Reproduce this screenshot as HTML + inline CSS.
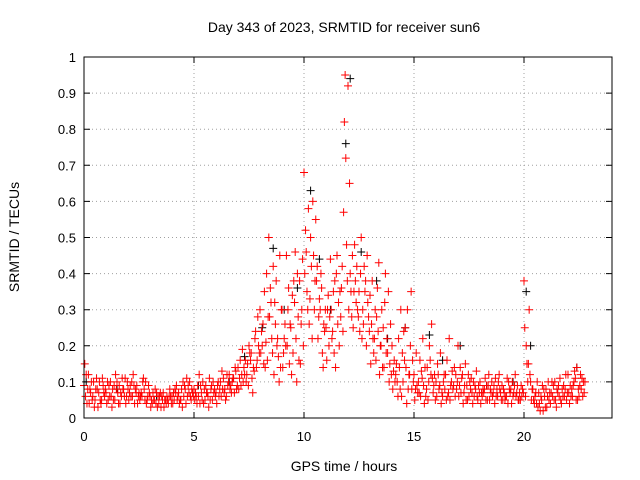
<!DOCTYPE html>
<html><head><meta charset="utf-8"><style>
body{margin:0;background:#fff}
svg{display:block;font-family:"Liberation Sans",sans-serif}
</style></head><body>
<svg id="chart" width="640" height="480" viewBox="0 0 640 480">
<text x="344" y="32" font-size="14" text-anchor="middle">Day 343 of 2023, SRMTID for receiver sun6</text>
<text transform="translate(19,237) rotate(-90)" font-size="14" text-anchor="middle">SRMTID / TECUs</text>
<text x="344" y="471" font-size="14" text-anchor="middle">GPS time / hours</text>
<g id="grid"></g><g id="ticks"></g><g id="marks"></g>
<rect x="84" y="57" width="528" height="361" fill="none" stroke="#000" stroke-width="1"/>
</svg>
<script>
const xTicks=[0,5,10,15,20];
const yTicks=[0,0.1,0.2,0.3,0.4,0.5,0.6,0.7,0.8,0.9,1];
const yTickLabels=["0","0.1","0.2","0.3","0.4","0.5","0.6","0.7","0.8","0.9","1"];
const times=[0,0.2,0.4,0.6,0.8,1,1.2,1.4,1.6,1.8,2,2.2,2.4,2.6,2.8,3,3.2,3.4,3.6,3.8,4,4.2,4.4,4.6,4.8,5,5.2,5.4,5.6,5.8,6,6.2,6.4,6.6,6.8,7,7.2,7.4,7.6,7.8,8,8.2,8.4,8.6,8.8,9,9.2,9.4,9.6,9.8,10,10.2,10.4,10.6,10.8,11,11.2,11.4,11.6,11.8,12,12.2,12.4,12.6,12.8,13,13.2,13.4,13.6,13.8,14,14.2,14.4,14.6,14.8,15,15.2,15.4,15.6,15.8,16,16.2,16.4,16.6,16.8,17,17.2,17.4,17.6,17.8,18,18.2,18.4,18.6,18.8,19,19.2,19.4,19.6,19.8,20,20.2,20.4,20.6,20.8,21,21.2,21.4,21.6,21.8,22,22.2,22.4,22.6];
const redA=[.09,.12,.06,.08,.05,.07,.10,.05,.09,.08,.08,.06,.09,.07,.10,.06,.05,.04,.07,.05,.06,.09,.05,.08,.10,.08,.06,.10,.07,.09,.07,.10,.08,.12,.11,.14,.19,.12,.18,.24,.30,.35,.50,.42,.22,.30,.45,.25,.46,.38,.68,.58,.60,.42,.36,.25,.44,.38,.20,.57,.92,.45,.42,.50,.38,.34,.22,.43,.25,.18,.20,.15,.30,.25,.12,.12,.10,.22,.14,.26,.10,.18,.08,.22,.09,.20,.12,.09,.11,.08,.10,.08,.12,.07,.06,.09,.06,.08,.12,.07,.38,.15,.08,.10,.05,.08,.04,.10,.06,.09,.12,.06,.14,.08];
const redB=[.15,.04,.10,.03,.11,.04,.06,.12,.04,.06,.05,.12,.04,.06,.04,.03,.08,.06,.03,.04,.04,.05,.08,.04,.06,.05,.12,.04,.06,.05,.04,.06,.05,.08,.07,.08,.10,.15,.11,.14,.18,.14,.28,.12,.17,.14,.20,.12,.22,.15,.40,.26,.45,.22,.18,.16,.30,.14,.35,.82,.30,.25,.30,.22,.20,.15,.30,.12,.14,.35,.08,.10,.06,.14,.20,.05,.07,.09,.05,.11,.06,.04,.12,.05,.14,.06,.04,.05,.07,.13,.04,.11,.05,.09,.10,.05,.11,.04,.06,.05,.25,.30,.05,.03,.09,.03,.07,.05,.11,.06,.07,.09,.05,.11];
const redC=[.06,.08,.03,.07,.09,.10,.03,.08,.07,.11,.07,.09,.06,.10,.05,.05,.04,.07,.05,.06,.07,.06,.03,.11,.05,.07,.04,.08,.03,.10,.09,.13,.06,.09,.14,.11,.14,.09,.07,.16,.24,.21,.36,.32,.10,.18,.30,.34,.10,.26,.52,.33,.30,.28,.14,.30,.22,.40,.28,.95,.65,.35,.28,.30,.45,.26,.16,.20,.32,.10,.13,.06,.18,.04,.35,.08,.16,.04,.10,.07,.15,.07,.05,.09,.06,.09,.07,.12,.04,.06,.07,.05,.08,.04,.12,.08,.04,.10,.07,.09,.06,.12,.04,.07,.02,.06,.10,.03,.05,.08,.04,.10,.08,.06];
const redD=[.12,.07,.05,.10,.07,.05,.08,.10,.06,.04,.09,.04,.07,.11,.06,.04,.07,.03,.05,.08,.05,.07,.10,.06,.08,.06,.09,.05,.11,.07,.10,.08,.12,.07,.13,.16,.12,.20,.14,.28,.20,.40,.32,.26,.45,.22,.36,.18,.40,.30,.46,.50,.38,.33,.26,.34,.24,.45,.36,.72,.40,.48,.35,.26,.32,.38,.28,.20,.40,.15,.16,.22,.10,.30,.08,.18,.06,.14,.20,.09,.12,.06,.16,.10,.12,.14,.09,.06,.10,.05,.06,.09,.07,.11,.08,.07,.10,.06,.09,.06,.20,.10,.06,.04,.08,.10,.06,.08,.04,.12,.09,.13,.06,.10];
const redE=[.04,.10,.08,.05,.06,.09,.05,.07,.11,.06,.06,.08,.05,.08,.09,.07,.03,.06,.04,.06,.08,.04,.06,.09,.07,.04,.07,.09,.05,.08,.06,.11,.09,.10,.08,.09,.16,.18,.13,.20,.26,.16,.22,.38,.14,.26,.15,.38,.28,.44,.35,.42,.55,.30,.24,.20,.35,.26,.42,.48,.35,.38,.24,.42,.28,.22,.36,.30,.18,.26,.10,.14,.24,.08,.16,.09,.13,.06,.16,.12,.08,.10,.06,.13,.08,.07,.15,.10,.06,.09,.08,.05,.10,.06,.07,.05,.08,.07,.05,.08,.15,.05,.07,.02,.06,.05,.09,.07,.08,.05,.06,.11,.09,.07];
const redF=[.08,.05,.11,.04,.08,.06,.09,.04,.08,.10,.10,.07,.06,.05,.07,.05,.06,.05,.06,.04,.07,.05,.09,.07,.06,.09,.05,.07,.08,.06,.08,.07,.10,.11,.09,.12,.10,.16,.22,.18,.15,.28,.18,.20,.30,.20,.26,.32,.16,.20,.30,.22,.38,.40,.30,.28,.18,.32,.24,.38,.28,.32,.40,.35,.24,.18,.24,.14,.22,.12,.12,.08,.16,.12,.10,.07,.11,.08,.12,.05,.09,.12,.07,.08,.10,.11,.05,.08,.09,.07,.07,.09,.06,.08,.05,.06,.07,.09,.05,.07,.10,.08,.04,.06,.03,.07,.05,.09,.06,.07,.08,.05,.12,.10];
const blackTimes=[0.1,1.5,3.3,5.2,6.6,7.3,8.1,8.6,9.1,9.7,10.0,10.3,10.7,11.2,11.9,12.1,12.6,13.3,13.8,14.6,15.7,16.3,17.1,18.3,19.5,20.1,20.3,21.5,22.4];
const blackVals=[.10,.08,.06,.09,.10,.17,.25,.47,.30,.36,.68,.63,.44,.30,.76,.94,.46,.38,.22,.25,.23,.16,.20,.09,.10,.35,.20,.08,.14];
const X0=84,X1=612,Y0=418,Y1=57,XMAX=24;
const xs=v=>X0+(X1-X0)*v/XMAX, ys=v=>Y0-(Y0-Y1)*v;
const NS="http://www.w3.org/2000/svg";
function mk(tag,attrs,parent){const e=document.createElementNS(NS,tag);for(const k in attrs)e.setAttribute(k,attrs[k]);parent.appendChild(e);return e;}
const grid=document.getElementById('grid'),ticks=document.getElementById('ticks'),marks=document.getElementById('marks');
yTicks.forEach((v,i)=>{const y=ys(v);
 if(i>0&&i<yTicks.length-1){const g=mk('line',{x1:X0,x2:X1,y1:y,y2:y,stroke:'#a0a0a0','stroke-dasharray':'1,3'},grid);
 
 }
 const t=mk('path',{d:`M${X0} ${y}h6M${X1} ${y}h-6`,stroke:'#000'},ticks);
 
 
 const l=mk('text',{x:X0-8,y:y+5,'font-size':13,'text-anchor':'end'},ticks);l.textContent=yTickLabels[i];
 
 
});
xTicks.forEach(v=>{const x=xs(v);
 if(v>0){const g=mk('line',{x1:x,x2:x,y1:Y0,y2:Y1,stroke:'#a0a0a0','stroke-dasharray':'1,3'},grid);
 
 }
 const t=mk('path',{d:`M${x} ${Y0}v-6M${x} ${Y1}v6`,stroke:'#000'},ticks);
 
 
 const l=mk('text',{x:x,y:Y0+23,'font-size':13,'text-anchor':'middle'},ticks);l.textContent=String(v);
 
 
});
function plus(t,v,color,name){const x=xs(t),y=ys(v);
 const p=mk('path',{d:`M${x-4} ${y}h8M${x} ${y-4}v8`,stroke:color,'stroke-width':1},marks);
 
 }
blackTimes.forEach((t,i)=>plus(t,blackVals[i],'#000','black-point'));
const shifts=[0,0.035,0.07,0.1,0.135,0.17];
[redA,redB,redC,redD,redE,redF].forEach((arr,k)=>arr.forEach((v,i)=>plus(times[i]+shifts[k],v,'#ff0000','red-point')));
</script>
</body></html>
